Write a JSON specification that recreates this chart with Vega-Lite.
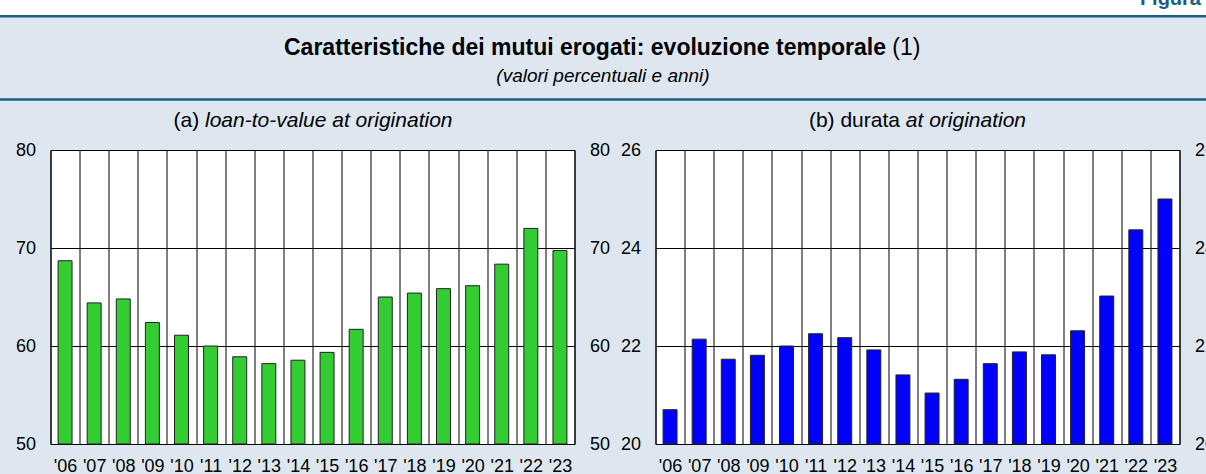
{
  "$schema": "https://vega.github.io/schema/vega-lite/v6.json",
  "background": "#dee7f0",
  "padding": {"left": -31.5, "top": -20, "right": -30.5, "bottom": -20},
  "autosize": {"type": "pad"},
  "config": {"font": "Liberation Sans"},
  "datasets": {
    "mutui": [
      {"anno": "'06", "ltv": 68.7, "durata": 20.7},
      {"anno": "'07", "ltv": 64.4, "durata": 22.14},
      {"anno": "'08", "ltv": 64.8, "durata": 21.73},
      {"anno": "'09", "ltv": 62.4, "durata": 21.81},
      {"anno": "'10", "ltv": 61.1, "durata": 22.0},
      {"anno": "'11", "ltv": 60.0, "durata": 22.25},
      {"anno": "'12", "ltv": 58.9, "durata": 22.17},
      {"anno": "'13", "ltv": 58.2, "durata": 21.92},
      {"anno": "'14", "ltv": 58.55, "durata": 21.41},
      {"anno": "'15", "ltv": 59.35, "durata": 21.04},
      {"anno": "'16", "ltv": 61.7, "durata": 21.32},
      {"anno": "'17", "ltv": 65.0, "durata": 21.64},
      {"anno": "'18", "ltv": 65.4, "durata": 21.88},
      {"anno": "'19", "ltv": 65.85, "durata": 21.82},
      {"anno": "'20", "ltv": 66.15, "durata": 22.31},
      {"anno": "'21", "ltv": 68.35, "durata": 23.02},
      {"anno": "'22", "ltv": 72.0, "durata": 24.37},
      {"anno": "'23", "ltv": 69.75, "durata": 25.0}
    ]
  },
  "spacing": 81,
  "bounds": "flush",
  "hconcat": [
    {
      "width": 1,
      "height": 294,
      "view": {"stroke": null, "fill": null},
      "data": {"values": [{}]},
      "layer": [
        {"mark": {"type": "rect", "fill": "#dee7f0"}, "encoding": {"x": {"value": 31.5}, "x2": {"value": 1267.5}, "y": {"value": -170}, "y2": {"value": 344}}},
        {"mark": {"type": "rect", "fill": "#ffffff"}, "encoding": {"x": {"value": 31.5}, "x2": {"value": 1267.5}, "y": {"value": -170}, "y2": {"value": -135}}},
        {"mark": {"type": "rule", "stroke": "#185e84", "strokeWidth": 2.5}, "encoding": {"x": {"value": 31.5}, "x2": {"value": 1267.5}, "y": {"value": -133.8}}},
        {"mark": {"type": "rule", "stroke": "#185e84", "strokeWidth": 2.5}, "encoding": {"x": {"value": 31.5}, "x2": {"value": 1267.5}, "y": {"value": -50.5}}},
        {"mark": {"type": "text", "text": "Figura", "fontWeight": "bold", "fontSize": 20, "fill": "#185e84", "align": "right", "baseline": "alphabetic"}, "encoding": {"x": {"value": 1232.5}, "y": {"value": -145}}},
        {"mark": {"type": "text", "text": "Caratteristiche dei mutui erogati: evoluzione temporale", "fontWeight": "bold", "fontSize": 23, "fill": "#000000", "align": "left", "baseline": "alphabetic"}, "encoding": {"x": {"value": 315.5}, "y": {"value": -94.7}}},
        {"mark": {"type": "text", "text": "(1)", "fontSize": 23, "fill": "#000000", "align": "left", "baseline": "alphabetic"}, "encoding": {"x": {"value": 923.8}, "y": {"value": -94.7}}},
        {"mark": {"type": "text", "text": "(valori percentuali e anni)", "fontStyle": "italic", "fontSize": 19, "fill": "#000000", "align": "center", "baseline": "alphabetic"}, "encoding": {"x": {"value": 634.5}, "y": {"value": -68.5}}},
        {"mark": {"type": "text", "text": "(a)", "fontSize": 21, "fill": "#000000", "align": "left", "baseline": "alphabetic"}, "encoding": {"x": {"value": 205}, "y": {"value": -23}}},
        {"mark": {"type": "text", "text": "loan-to-value at origination", "fontStyle": "italic", "fontSize": 21, "fill": "#000000", "align": "left", "baseline": "alphabetic"}, "encoding": {"x": {"value": 236.5}, "y": {"value": -23}}},
        {"mark": {"type": "text", "text": "(b) durata", "fontSize": 21, "fill": "#000000", "align": "left", "baseline": "alphabetic"}, "encoding": {"x": {"value": 840.4}, "y": {"value": -23}}},
        {"mark": {"type": "text", "text": "at origination", "fontStyle": "italic", "fontSize": 21, "fill": "#000000", "align": "left", "baseline": "alphabetic"}, "encoding": {"x": {"value": 937.3}, "y": {"value": -23}}}
      ]
    },
    {
      "width": 524,
      "height": 294,
      "view": {"fill": "#ffffff", "stroke": "#000000", "strokeWidth": 1},
      "data": {"name": "mutui"},
      "layer": [
        {
          "mark": {"type": "bar", "fill": "#33cc33", "stroke": "#222222", "strokeWidth": 1, "width": {"band": 0.48}},
          "encoding": {
            "x": {"field": "anno", "type": "ordinal", "sort": null, "scale": {"paddingInner": 0, "paddingOuter": 0},
              "axis": {"title": null, "tickBand": "extent", "grid": true, "gridColor": "#000000", "gridWidth": 1, "gridOpacity": 1, "ticks": false, "domain": false, "labelAngle": 0, "labelFontSize": 18, "labelColor": "#000000", "labelPadding": 13}},
            "y": {"field": "ltv", "type": "quantitative", "scale": {"domain": [50, 80], "nice": false, "zero": false},
              "axis": {"orient": "left", "title": null, "values": [50, 60, 70, 80], "grid": true, "gridColor": "#000000", "gridWidth": 1, "gridOpacity": 1, "ticks": false, "domain": false, "labelFontSize": 18, "labelColor": "#000000", "labelPadding": 15}},
            "y2": {"datum": 50}
          }
        },
        {
          "mark": {"type": "bar", "opacity": 0, "width": {"band": 0.48}},
          "encoding": {
            "x": {"field": "anno", "type": "ordinal", "sort": null},
            "y": {"field": "ltv", "type": "quantitative",
              "axis": {"orient": "right", "title": null, "values": [50, 60, 70, 80], "grid": false, "ticks": false, "domain": false, "labelFontSize": 18, "labelColor": "#000000", "labelPadding": 15}},
            "y2": {"datum": 50}
          }
        }
      ],
      "resolve": {"axis": {"y": "independent"}}
    },
    {
      "width": 524,
      "height": 294,
      "view": {"fill": "#ffffff", "stroke": "#000000", "strokeWidth": 1},
      "data": {"name": "mutui"},
      "layer": [
        {
          "mark": {"type": "bar", "fill": "#0000ff", "stroke": "#222222", "strokeWidth": 1, "width": {"band": 0.48}},
          "encoding": {
            "x": {"field": "anno", "type": "ordinal", "sort": null, "scale": {"paddingInner": 0, "paddingOuter": 0},
              "axis": {"title": null, "tickBand": "extent", "grid": true, "gridColor": "#000000", "gridWidth": 1, "gridOpacity": 1, "ticks": false, "domain": false, "labelAngle": 0, "labelFontSize": 18, "labelColor": "#000000", "labelPadding": 13}},
            "y": {"field": "durata", "type": "quantitative", "scale": {"domain": [20, 26], "nice": false, "zero": false},
              "axis": {"orient": "left", "title": null, "values": [20, 22, 24, 26], "grid": true, "gridColor": "#000000", "gridWidth": 1, "gridOpacity": 1, "ticks": false, "domain": false, "labelFontSize": 18, "labelColor": "#000000", "labelPadding": 15}},
            "y2": {"datum": 20}
          }
        },
        {
          "mark": {"type": "bar", "opacity": 0, "width": {"band": 0.48}},
          "encoding": {
            "x": {"field": "anno", "type": "ordinal", "sort": null},
            "y": {"field": "durata", "type": "quantitative",
              "axis": {"orient": "right", "title": null, "values": [20, 22, 24, 26], "grid": false, "ticks": false, "domain": false, "labelFontSize": 18, "labelColor": "#000000", "labelPadding": 15}},
            "y2": {"datum": 20}
          }
        }
      ],
      "resolve": {"axis": {"y": "independent"}}
    }
  ]
}
